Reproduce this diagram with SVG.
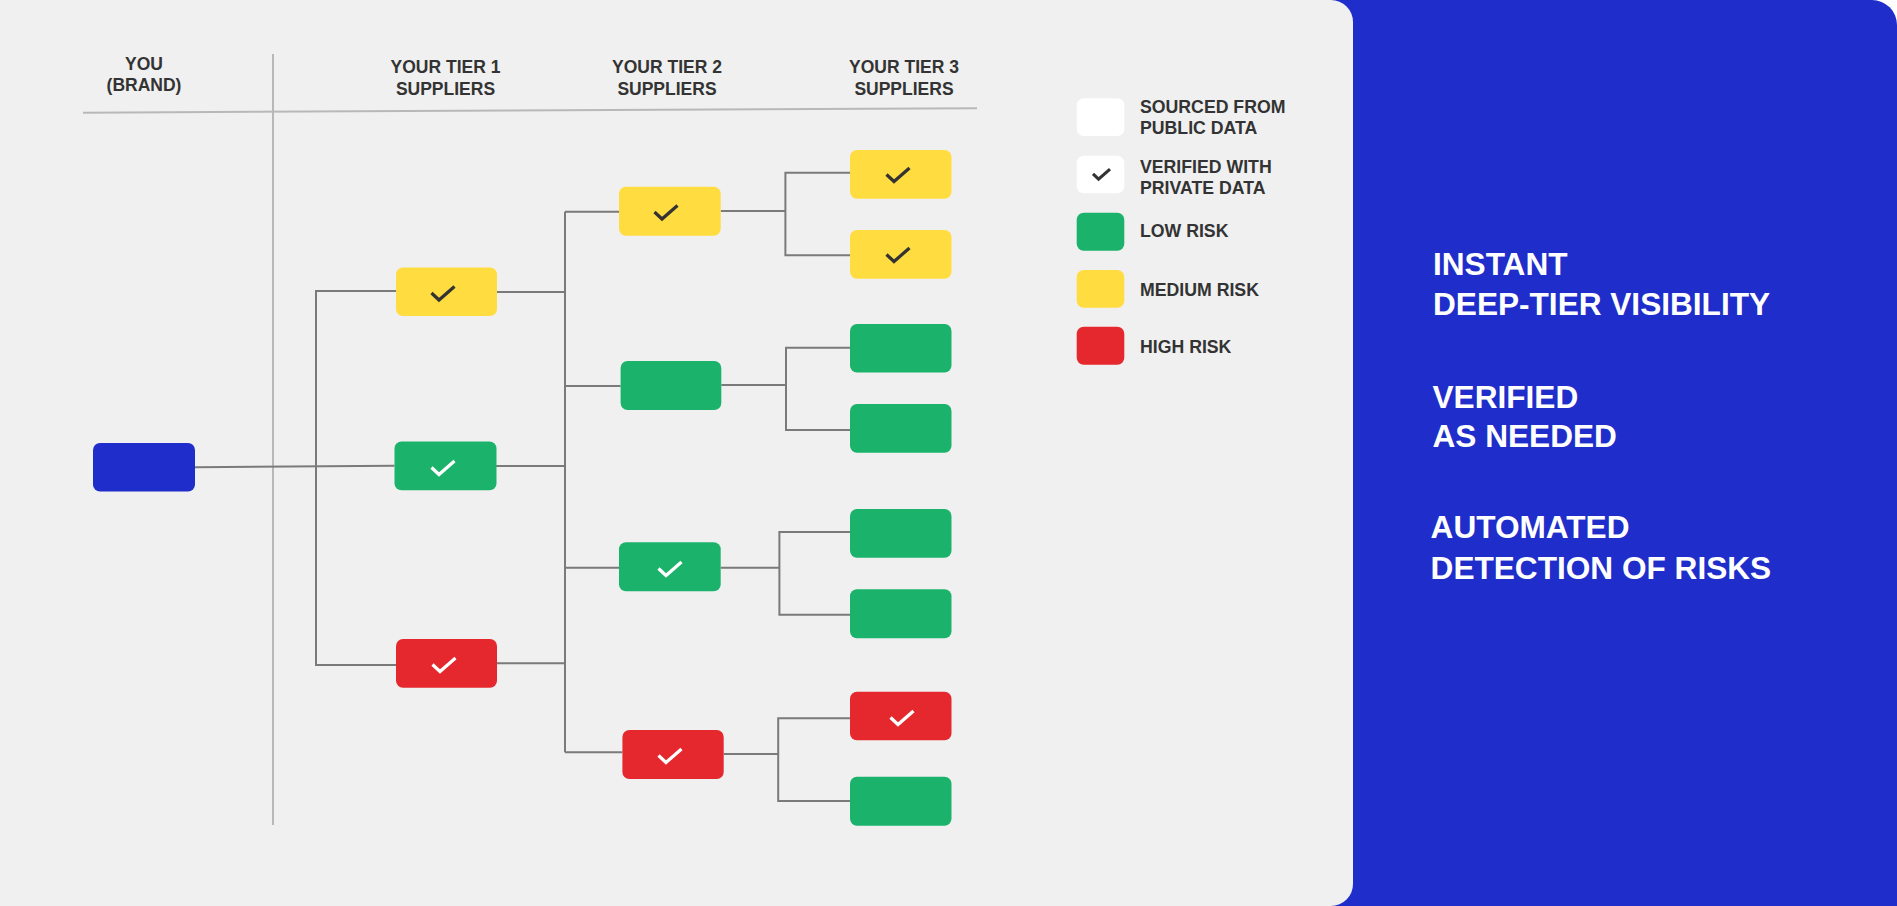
<svg xmlns="http://www.w3.org/2000/svg" xmlns:xlink="http://www.w3.org/1999/xlink" width="1897" height="906" viewBox="0 0 1897 906">
<style>
.hdr{font-family:"Liberation Sans",Arial,sans-serif;font-weight:bold;font-size:17.5px;fill:#333;text-anchor:middle}
.leg{font-family:"Liberation Sans",Arial,sans-serif;font-weight:bold;font-size:17.7px;fill:#333}
.big{font-family:"Liberation Sans",Arial,sans-serif;font-weight:bold;font-size:31.6px;fill:#fff}
.y{fill:#ffdc40}.g{fill:#1bb36b}.r{fill:#e5282e}.b{fill:#1f2dca}.w{fill:#fff}
.conn line,.conn polyline{stroke:#7a7a7a;stroke-width:2;fill:none}
.ck{fill:none;stroke-width:3.2;stroke-linejoin:miter;stroke-linecap:butt}
.ckd{stroke:#333}.ckw{stroke:#fff}
</style>
<defs>
<path id="chk" d="M-11.5,0.5 L-4,7.5 L11.5,-6"/>
</defs>
<rect width="1897" height="906" fill="#fff"/>
<path d="M1300,0 H1872 A25,25 0 0 1 1897,25 V906 H1300 Z" fill="#1f2dca"/>
<path d="M0,0 H1331 A22,22 0 0 1 1353,22 V884 A22,22 0 0 1 1331,906 H0 Z" fill="#f0f0f0"/>

<g id="grid">
<line x1="83" y1="112.7" x2="977" y2="108.3" stroke="#b8b8b8" stroke-width="2"/>
<line x1="273" y1="54" x2="273" y2="825" stroke="#b8b8b8" stroke-width="2"/>
</g>

<g id="headers">
<text class="hdr" x="144" y="69.5">YOU</text>
<text class="hdr" x="144" y="91">(BRAND)</text>
<text class="hdr" x="445.5" y="73">YOUR TIER 1</text>
<text class="hdr" x="445.5" y="94.6">SUPPLIERS</text>
<text class="hdr" x="667" y="73">YOUR TIER 2</text>
<text class="hdr" x="667" y="94.6">SUPPLIERS</text>
<text class="hdr" x="904" y="73">YOUR TIER 3</text>
<text class="hdr" x="904" y="94.6">SUPPLIERS</text>
</g>

<g id="connectors" class="conn">
<line x1="195" y1="467.3" x2="394.5" y2="465.7"/>
<polyline points="396,291 316,291 316,665 396,665"/>
<line x1="497" y1="292" x2="565" y2="292"/>
<line x1="496" y1="466" x2="565" y2="466"/>
<line x1="497" y1="663.3" x2="565" y2="663.3"/>
<line x1="565" y1="211.7" x2="565" y2="752.3"/>
<line x1="565" y1="211.7" x2="619" y2="211.7"/>
<line x1="565" y1="386" x2="620.6" y2="386"/>
<line x1="565" y1="567.7" x2="619" y2="567.7"/>
<line x1="565" y1="752.3" x2="622.4" y2="752.3"/>
<line x1="720.7" y1="211" x2="785.4" y2="211"/>
<polyline points="850,172.7 785.4,172.7 785.4,255.3 850,255.3"/>
<line x1="721.3" y1="385" x2="786" y2="385"/>
<polyline points="850,347.7 786,347.7 786,430 850,430"/>
<line x1="720.7" y1="567.7" x2="779.4" y2="567.7"/>
<polyline points="850,532 779.4,532 779.4,614.7 850,614.7"/>
<line x1="723.7" y1="754" x2="778.2" y2="754"/>
<polyline points="850,718.3 778.2,718.3 778.2,801 850,801"/>
</g>

<g id="brand"><rect class="b" x="93" y="443" width="102" height="48.5" rx="7"/></g>

<g id="t1-yellow"><rect class="y" x="396" y="267.5" width="101" height="48.5" rx="7"/><use href="#chk" xlink:href="#chk" class="ck ckd" transform="translate(443,292.5)"/></g>
<g id="t1-green"><rect class="g" x="394.5" y="441.5" width="102" height="48.8" rx="7"/><use href="#chk" xlink:href="#chk" class="ck ckw" transform="translate(443,467)"/></g>
<g id="t1-red"><rect class="r" x="396" y="639" width="101" height="48.7" rx="7"/><use href="#chk" xlink:href="#chk" class="ck ckw" transform="translate(444,664)"/></g>

<g id="t2-yellow"><rect class="y" x="619" y="186.7" width="101.7" height="49" rx="7"/><use href="#chk" xlink:href="#chk" class="ck ckd" transform="translate(666,211.5)"/></g>
<g id="t2-green-a"><rect class="g" x="620.6" y="361" width="100.7" height="49" rx="7"/></g>
<g id="t2-green-b"><rect class="g" x="619" y="542.3" width="101.7" height="49" rx="7"/><use href="#chk" xlink:href="#chk" class="ck ckw" transform="translate(670,568)"/></g>
<g id="t2-red"><rect class="r" x="622.4" y="730" width="101.3" height="49" rx="7"/><use href="#chk" xlink:href="#chk" class="ck ckw" transform="translate(670,755)"/></g>

<g id="t3-yellow-a"><rect class="y" x="850" y="150" width="101.5" height="48.7" rx="7"/><use href="#chk" xlink:href="#chk" class="ck ckd" transform="translate(898,174)"/></g>
<g id="t3-yellow-b"><rect class="y" x="850" y="230" width="101.5" height="48.7" rx="7"/><use href="#chk" xlink:href="#chk" class="ck ckd" transform="translate(898,254)"/></g>
<g id="t3-green-a"><rect class="g" x="850" y="324" width="101.5" height="48.6" rx="7"/></g>
<g id="t3-green-b"><rect class="g" x="850" y="404" width="101.5" height="48.7" rx="7"/></g>
<g id="t3-green-c"><rect class="g" x="850" y="509" width="101.5" height="48.7" rx="7"/></g>
<g id="t3-green-d"><rect class="g" x="850" y="589.3" width="101.5" height="49" rx="7"/></g>
<g id="t3-red"><rect class="r" x="850" y="691.7" width="101.5" height="48.6" rx="7"/><use href="#chk" xlink:href="#chk" class="ck ckw" transform="translate(902,717)"/></g>
<g id="t3-green-e"><rect class="g" x="850" y="776.7" width="101.5" height="49" rx="7"/></g>

<g id="legend">
<rect class="w" x="1076.7" y="98.3" width="47.6" height="37.7" rx="7"/>
<text class="leg" x="1140" y="113.3">SOURCED FROM</text>
<text class="leg" x="1140" y="134">PUBLIC DATA</text>
<rect class="w" x="1076.7" y="155.7" width="47.6" height="37.6" rx="7"/>
<use href="#chk" xlink:href="#chk" class="ck ckd" transform="translate(1101.5,173.5) scale(0.74)" style="stroke-width:4.2"/>
<text class="leg" x="1140" y="173.3">VERIFIED WITH</text>
<text class="leg" x="1140" y="194">PRIVATE DATA</text>
<rect class="g" x="1076.7" y="212.7" width="47.6" height="38" rx="7"/>
<text class="leg" x="1140" y="237.3">LOW RISK</text>
<rect class="y" x="1076.7" y="270" width="47.6" height="37.7" rx="7"/>
<text class="leg" x="1140" y="296">MEDIUM RISK</text>
<rect class="r" x="1076.7" y="326.7" width="47.6" height="38" rx="7"/>
<text class="leg" x="1140" y="352.7">HIGH RISK</text>
</g>

<g id="benefits">
<text class="big" x="1433" y="275">INSTANT</text>
<text class="big" x="1433" y="315">DEEP-TIER VISIBILITY</text>
<text class="big" x="1432.5" y="408.3">VERIFIED</text>
<text class="big" x="1432.5" y="446.7">AS NEEDED</text>
<text class="big" x="1430.6" y="538.3">AUTOMATED</text>
<text class="big" x="1430.6" y="579.3">DETECTION OF RISKS</text>
</g>
</svg>
